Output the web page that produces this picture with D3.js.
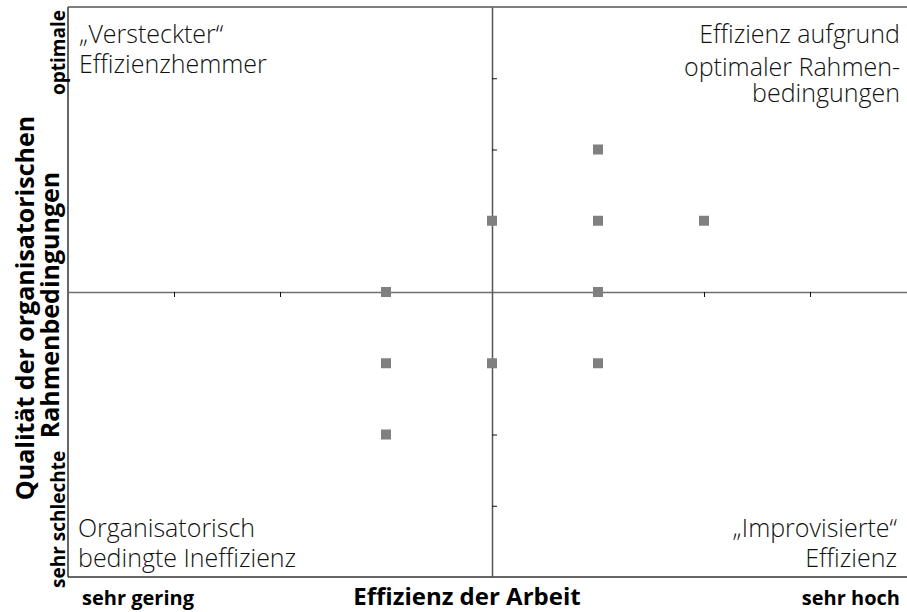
<!DOCTYPE html>
<html>
<head>
<meta charset="utf-8">
<script src="https://cdn.jsdelivr.net/npm/d3@7"></script>
<style>
  html, body { margin: 0; padding: 0; background: #fff; }
  svg { display: block; }
  .quad { font-family: "Open Sans", "Noto Sans", sans-serif; font-weight: 300; font-size: 25px; fill: #111; }
  .lab { font-family: "Open Sans", "Noto Sans", sans-serif; font-weight: 700; fill: #000; }
</style>
</head>
<body>
<svg id="chart" width="907" height="612"></svg>
<script>
// Efficiency of work (x) vs. quality of organisational conditions (y), both on -4..4
const efficiency = [1, 0, 1, 2, -1, 1, -1, 0, 1, -1];
const conditions = [2, 1, 1, 1, 0, 0, -1, -1, -1, -2];
const tickValues = [-3, -2, -1, 1, 2, 3];

const quadrantTexts = [
  { lines: ["\u201EVersteckter\u201C", "Effizienzhemmer"], anchor: "start", qx: -4, qy: 4 },
  { lines: ["Effizienz aufgrund", "optimaler Rahmen-", "bedingungen"], anchor: "end", qx: 4, qy: 4 },
  { lines: ["Organisatorisch", "bedingte Ineffizienz"], anchor: "start", qx: -4, qy: -4 },
  { lines: ["\u201EImprovisierte\u201C", "Effizienz"], anchor: "end", qx: 4, qy: -4 }
];

const xTitle = "Effizienz der Arbeit";
const xLow = "sehr gering", xHigh = "sehr hoch";
const yTitle = ["Qualität der organisatorischen", "Rahmenbedingungen"];
const yLow = "sehr schlechte", yHigh = "optimale";

const svg = d3.select("#chart");
const x = d3.scaleLinear().domain([-4, 4]).range([68, 916]);
const y = d3.scaleLinear().domain([-4, 4]).range([577, 7]);

// outer frame: left, top and bottom edges
const frame = svg.append("g").attr("fill", "none");
frame.append("line").attr("x1", x(-4)).attr("x2", x(-4)).attr("y1", y(4)).attr("y2", y(-4))
  .attr("stroke", "#333").attr("stroke-width", 1.5);
frame.append("line").attr("x1", x(-4)).attr("x2", 907).attr("y1", y(4)).attr("y2", y(4))
  .attr("stroke", "#555").attr("stroke-width", 1.5);
frame.append("line").attr("x1", x(-4)).attr("x2", 907).attr("y1", y(-4)).attr("y2", y(-4))
  .attr("stroke", "#333").attr("stroke-width", 1.5);

// central cross axes
const xAxis = d3.axisBottom(x).tickValues(tickValues).tickSize(5).tickFormat("").tickSizeOuter(0);
const gx = svg.append("g").attr("transform", `translate(0,${y(0)})`).call(xAxis);
gx.select(".domain").attr("stroke", "#6e6e6e").attr("stroke-width", 1.5);
gx.selectAll(".tick line").attr("stroke", "#111").attr("stroke-width", 1);

const yAxis = d3.axisRight(y).tickValues(tickValues).tickSize(5).tickFormat("").tickSizeOuter(0);
const gy = svg.append("g").attr("transform", `translate(${x(0)},0)`).call(yAxis);
gy.select(".domain").attr("stroke", "#555").attr("stroke-width", 1.5);
gy.selectAll(".tick line").attr("stroke", "#111").attr("stroke-width", 1);

// data points
const pts = efficiency.map((v, i) => ({ ex: v, qy: conditions[i] }));
svg.append("g").selectAll("rect").data(pts).join("rect")
  .attr("x", d => x(d.ex) - 5).attr("y", d => y(d.qy) - 5)
  .attr("width", 10).attr("height", 10)
  .attr("fill", "#808080");

// quadrant descriptions
const qPos = {
  "-4,4": { x: 79, y0: 43, gaps: [30] },
  "4,4": { x: 900, y0: 43, gaps: [33, 26] },
  "-4,-4": { x: 78, y0: 537, gaps: [30] },
  "4,-4": { x: 897, y0: 537, gaps: [30] }
};
quadrantTexts.forEach(q => {
  const p = qPos[`${q.qx},${q.qy}`];
  const t = svg.append("text").attr("class", "quad").attr("text-anchor", q.anchor);
  let yy = p.y0;
  q.lines.forEach((l, i) => {
    if (i > 0) yy += p.gaps[i - 1];
    t.append("tspan").attr("x", p.x).attr("y", yy).text(l);
  });
});

// axis titles
svg.append("text").attr("class", "lab").attr("font-size", 24).attr("text-anchor", "middle")
  .attr("x", 467).attr("y", 605).text(xTitle);
svg.append("text").attr("class", "lab").attr("font-size", 20).attr("text-anchor", "start")
  .attr("x", 82).attr("y", 605).text(xLow);
svg.append("text").attr("class", "lab").attr("font-size", 20).attr("text-anchor", "end")
  .attr("x", 900).attr("y", 605).text(xHigh);

svg.append("text").attr("class", "lab").attr("font-size", 25).attr("text-anchor", "middle")
  .attr("transform", "translate(34,308) rotate(-90)").text(yTitle[0]);
svg.append("text").attr("class", "lab").attr("font-size", 25).attr("text-anchor", "middle")
  .attr("transform", "translate(59,305) rotate(-90)").text(yTitle[1]);
svg.append("text").attr("class", "lab").attr("font-size", 19).attr("text-anchor", "end")
  .attr("transform", "translate(65,10) rotate(-90)").text(yHigh);
svg.append("text").attr("class", "lab").attr("font-size", 19).attr("text-anchor", "start")
  .attr("transform", "translate(65,588) rotate(-90)").text(yLow);
</script>
</body>
</html>
